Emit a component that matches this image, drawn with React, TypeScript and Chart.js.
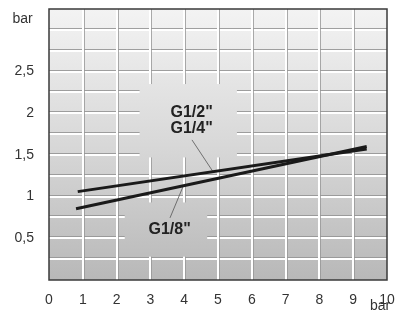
import React, { useEffect, useRef } from 'react';
import { Chart, registerables } from 'chart.js';

Chart.register(...registerables);

// ---- data ----
const xTickValues = [0, 1, 2, 3, 4, 5, 6, 7, 8, 9, 10];
const yLabelValues = [0.5, 1, 1.5, 2, 2.5];
const yLabelTexts = ['0,5', '1', '1,5', '2', '2,5'];
const lineA_x = [0.85, 9.4];
const lineA_y = [1.06, 1.57];
const lineB_x = [0.8, 9.4];
const lineB_y = [0.855, 1.6];
const labelTopLines = ['G1/2"', 'G1/4"'];
const labelBottomText = 'G1/8"';
const axisUnit = 'bar';

// annotation anchors in data units
const leaderA_x = [4.23, 4.85];
const leaderA_y = [1.68, 1.3];
const leaderB_x = [3.58, 3.96];
const leaderB_y = [0.745, 1.115];
const labelTopPos = { x: 4.22, y1: 2.01, y2: 1.82 };
const labelBottomPos = { x: 3.57, y: 0.61 };
const gapBoxes = [
  { x0: 2.68, x1: 5.56, y0: 1.47, y1: 2.35 },
  { x0: 2.24, x1: 4.68, y0: 0.28, y1: 0.93 },
];

const FONT = '"Liberation Sans", Arial, sans-serif';

function makeBg(ctx: CanvasRenderingContext2D, a: any) {
  const g = ctx.createLinearGradient(0, a.top, 0, a.bottom);
  g.addColorStop(0, '#f3f3f3');
  g.addColorStop(0.5, '#d8d8d8');
  g.addColorStop(1, '#b8b8b8');
  return g;
}

const decorPlugin = {
  id: 'decor',
  beforeDatasetsDraw(chart: any) {
    const { ctx, chartArea: a, scales } = chart;
    const xs = scales.x;
    const ys = scales.y;
    ctx.save();
    ctx.fillStyle = makeBg(ctx, a);
    ctx.fillRect(a.left, a.top, a.right - a.left, a.bottom - a.top);
    // horizontal grid every 0.25
    for (let i = 1; i <= 12; i++) {
      const v = i * 0.25;
      const py = Math.round(ys.getPixelForValue(v));
      ctx.fillStyle = 'rgba(150,150,150,0.9)';
      ctx.fillRect(a.left, py - 2, a.right - a.left, 1);
      ctx.fillStyle = '#ffffff';
      ctx.fillRect(a.left, py - 1, a.right - a.left, 2);
    }
    // vertical grid every 1
    for (let v = 1; v <= 9; v++) {
      const px = Math.round(xs.getPixelForValue(v));
      ctx.fillStyle = '#ffffff';
      ctx.fillRect(px - 1, a.top, 2, a.bottom - a.top);
      ctx.fillStyle = 'rgba(150,150,150,0.8)';
      ctx.fillRect(px + 1, a.top, 1, a.bottom - a.top);
    }
    // gaps behind labels
    for (const b of gapBoxes) {
      const l = xs.getPixelForValue(b.x0);
      const r = xs.getPixelForValue(b.x1);
      const t = ys.getPixelForValue(b.y1);
      const bt = ys.getPixelForValue(b.y0);
      ctx.fillStyle = makeBg(ctx, a);
      ctx.fillRect(l, t, r - l, bt - t);
    }
    ctx.restore();
  },
  afterDatasetsDraw(chart: any) {
    const { ctx, chartArea: a, scales } = chart;
    const xs = scales.x;
    const ys = scales.y;
    ctx.save();
    ctx.fillStyle = '#222';
    ctx.font = 'bold 16px ' + FONT;
    ctx.textAlign = 'center';
    ctx.textBaseline = 'middle';
    const tx = xs.getPixelForValue(labelTopPos.x);
    ctx.fillText(labelTopLines[0], tx, ys.getPixelForValue(labelTopPos.y1));
    ctx.fillText(labelTopLines[1], tx, ys.getPixelForValue(labelTopPos.y2));
    ctx.fillText(labelBottomText, xs.getPixelForValue(labelBottomPos.x), ys.getPixelForValue(labelBottomPos.y));
    // frame
    ctx.strokeStyle = '#3a3a3a';
    ctx.lineWidth = 1.5;
    ctx.strokeRect(a.left, a.top, a.right - a.left, a.bottom - a.top);
    // unit labels
    ctx.fillStyle = '#333';
    ctx.font = '14px ' + FONT;
    ctx.fillText(axisUnit, 22.5, 19);
    ctx.fillText(axisUnit, 380, 306);
    ctx.restore();
  },
};

function toPts(xsArr: number[], ysArr: number[]) {
  return xsArr.map((x, i) => ({ x, y: ysArr[i] }));
}

export default function App() {
  const ref = useRef<HTMLCanvasElement | null>(null);
  useEffect(() => {
    if (!ref.current) return;
    const chart = new Chart(ref.current, {
      type: 'scatter',
      data: {
        datasets: [
          { data: toPts(lineA_x, lineA_y), showLine: true, borderColor: '#1a1a1a', borderWidth: 3, pointRadius: 0, borderCapStyle: 'butt' },
          { data: toPts(lineB_x, lineB_y), showLine: true, borderColor: '#1a1a1a', borderWidth: 3, pointRadius: 0, borderCapStyle: 'butt' },
          { data: toPts(leaderA_x, leaderA_y), showLine: true, borderColor: '#555', borderWidth: 0.8, pointRadius: 0 },
          { data: toPts(leaderB_x, leaderB_y), showLine: true, borderColor: '#555', borderWidth: 0.8, pointRadius: 0 },
        ],
      } as any,
      options: {
        animation: false,
        responsive: false,
        layout: { padding: { top: 9, right: 8, left: 0, bottom: 0 } },
        plugins: { legend: { display: false }, tooltip: { enabled: false } },
        scales: {
          x: {
            type: 'linear',
            min: 0,
            max: 10,
            grid: { display: false },
            border: { display: false },
            afterFit: (s: any) => { s.height = 34; s.paddingLeft = 0; s.paddingRight = 0; },
            afterBuildTicks: (s: any) => { s.ticks = xTickValues.map((v) => ({ value: v })); },
            ticks: {
              autoSkip: false,
              maxRotation: 0,
              padding: 4,
              color: '#333',
              font: { family: FONT, size: 14 },
              callback: (v: any) => String(v),
            },
          },
          y: {
            type: 'linear',
            min: 0,
            max: 3.25,
            grid: { display: false },
            border: { display: false },
            afterFit: (s: any) => { s.width = 49; s.paddingTop = 0; s.paddingBottom = 0; },
            afterBuildTicks: (s: any) => { s.ticks = yLabelValues.map((v) => ({ value: v })); },
            ticks: {
              autoSkip: false,
              padding: 7,
              color: '#333',
              font: { family: FONT, size: 14 },
              callback: (v: any) => {
                const i = yLabelValues.indexOf(Number(v));
                return i >= 0 ? yLabelTexts[i] : '';
              },
            },
          },
        },
      } as any,
      plugins: [decorPlugin],
    });
    return () => chart.destroy();
  }, []);
  return (
    <div style={{ position: 'absolute', left: 0, top: 0, width: 395, height: 314, background: '#fff' }}>
      <canvas ref={ref} width={395} height={314} style={{ display: 'block' }} />
    </div>
  );
}
